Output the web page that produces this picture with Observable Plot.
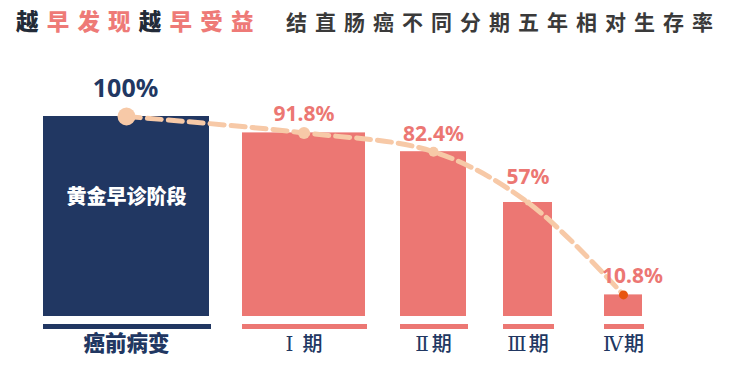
<!DOCTYPE html>
<html>
<head>
<meta charset="utf-8">
<script src="https://cdn.jsdelivr.net/npm/d3@7"></script>
<script src="https://cdn.jsdelivr.net/npm/@observablehq/plot@0.6"></script>
<style>
  html, body { margin: 0; padding: 0; background: #fff; }
  #wrap { position: relative; width: 731px; height: 372px; overflow: hidden; font-family: "Noto Sans CJK SC", sans-serif; }
  #title { position: relative; height: 45px; }
  #title span.a { position: absolute; left: 16px; top: 5px; font-size: 22.5px; font-weight: 900; letter-spacing: 8.2px; line-height: 30px; }
  #title span.b { position: absolute; left: 286px; top: 6px; font-size: 21px; font-weight: 700; letter-spacing: 8px; line-height: 30px; color: #3a3a3a; }
  .dk { color: #232b38; }
  .pk { color: #ee7a77; }
  #chart svg { display: block; }
</style>
</head>
<body>
<div id="wrap">
  <div id="title"></div>
  <div id="chart"></div>
</div>
<script>
// ---- data ----
const categories = ["癌前病变", "Ⅰ期", "Ⅱ期", "Ⅲ期", "Ⅳ期"];
const survival = [100, 91.8, 82.4, 57, 10.8];
const valueLabels = ["100%", "91.8%", "82.4%", "57%", "10.8%"];
const highlightLabel = "黄金早诊阶段";
const titleLeft = [["越", "dk"], ["早发现", "pk"], ["越", "dk"], ["早受益", "pk"]];
const titleRight = "结直肠癌不同分期五年相对生存率";

// ---- layout / style (not data) ----
const NAVY = "#213762";
const PINK = "#ec7773";
const PEACH = "#f7c9a7";
const ORANGE = "#e8540f";
const barWidths = [166, 123, 66, 49, 38];
const gaps = [33, 35, 37, 52];
const startX = 43;
const dotR = [9, 6, 5, 3, 4.5];
const labelDy = [-20, -12, -11, -19, -12];
const labelDx = [-1, 0, 0, 0, 9];
const labelSize = [25, 21, 21, 21, 21];
const catSpacing = [0, 9, 3, 2, 1];

// title
const t = document.getElementById("title");
const a = document.createElement("span");
a.className = "a";
a.innerHTML = titleLeft.map(([s, c]) => `<span class="${c}">${s}</span>`).join("");
t.appendChild(a);
const b = document.createElement("span");
b.className = "b";
b.textContent = titleRight;
t.appendChild(b);

// build table
let cursor = startX;
const rows = categories.map((c, i) => {
  const x1 = cursor, x2 = cursor + barWidths[i];
  cursor = x2 + (gaps[i] || 0);
  return {
    cat: c, v: survival[i], label: valueLabels[i], i,
    x1, x2, cx: (x1 + x2) / 2,
    fill: i === 0 ? NAVY : PINK,
    dotFill: i === categories.length - 1 ? ORANGE : PEACH,
    r: dotR[i]
  };
});

const chart = Plot.plot({
  width: 731,
  height: 327,
  marginTop: 71,
  marginBottom: 56,
  marginLeft: 0,
  marginRight: 0,
  x: { domain: [0, 731], axis: null },
  y: { domain: [0, 100], axis: null },
  r: { type: "identity" },
  color: { type: "identity" },
  style: { fontFamily: "'Noto Sans', 'Noto Sans CJK SC', sans-serif", background: "transparent" },
  marks: [
    Plot.rect(rows, { x1: "x1", x2: "x2", y1: 0, y2: "v", fill: "fill" }),
    Plot.rect(rows, { x1: "x1", x2: d => d.x2 + 2, y1: -4, y2: -6.5, fill: "fill" }),
    Plot.text([rows[0]], {
      x: "cx", y: 59.5, text: () => highlightLabel, fill: "#fff",
      fontSize: 20, fontWeight: 900, fontFamily: "Noto Sans CJK SC"
    }),
    Plot.line(rows, {
      x: "cx", y: "v", curve: "catmull-rom", stroke: PEACH,
      strokeWidth: 5, strokeDasharray: "14,7"
    }),
    Plot.dot(rows, { x: "cx", y: "v", r: "r", fill: "dotFill" }),
    ...rows.map((d, i) => Plot.text([d], {
      x: "cx", y: "v", text: "label", lineAnchor: "bottom",
      dy: labelDy[i], dx: labelDx[i], fontSize: labelSize[i], fontWeight: 700,
      fill: i === 0 ? NAVY : PINK, fontFamily: "Noto Sans"
    })),
    ...rows.map((d, i) => Plot.text([d], {
      x: "cx", y: -14, text: "cat",
      dx: catSpacing[i] / 2,
      fontSize: i === 0 ? 21.5 : 20, fontWeight: i === 0 ? 900 : 500,
      fill: NAVY, className: "cat" + i,
      fontFamily: i === 0 ? "Noto Sans CJK SC" : "'DejaVu Serif', 'Noto Sans CJK SC'"
    }))
  ]
});
catSpacing.forEach((s, i) => {
  d3.select(chart).selectAll(".cat" + i + " text").style("letter-spacing", s + "px");
});
document.getElementById("chart").appendChild(chart);
</script>
</body>
</html>
